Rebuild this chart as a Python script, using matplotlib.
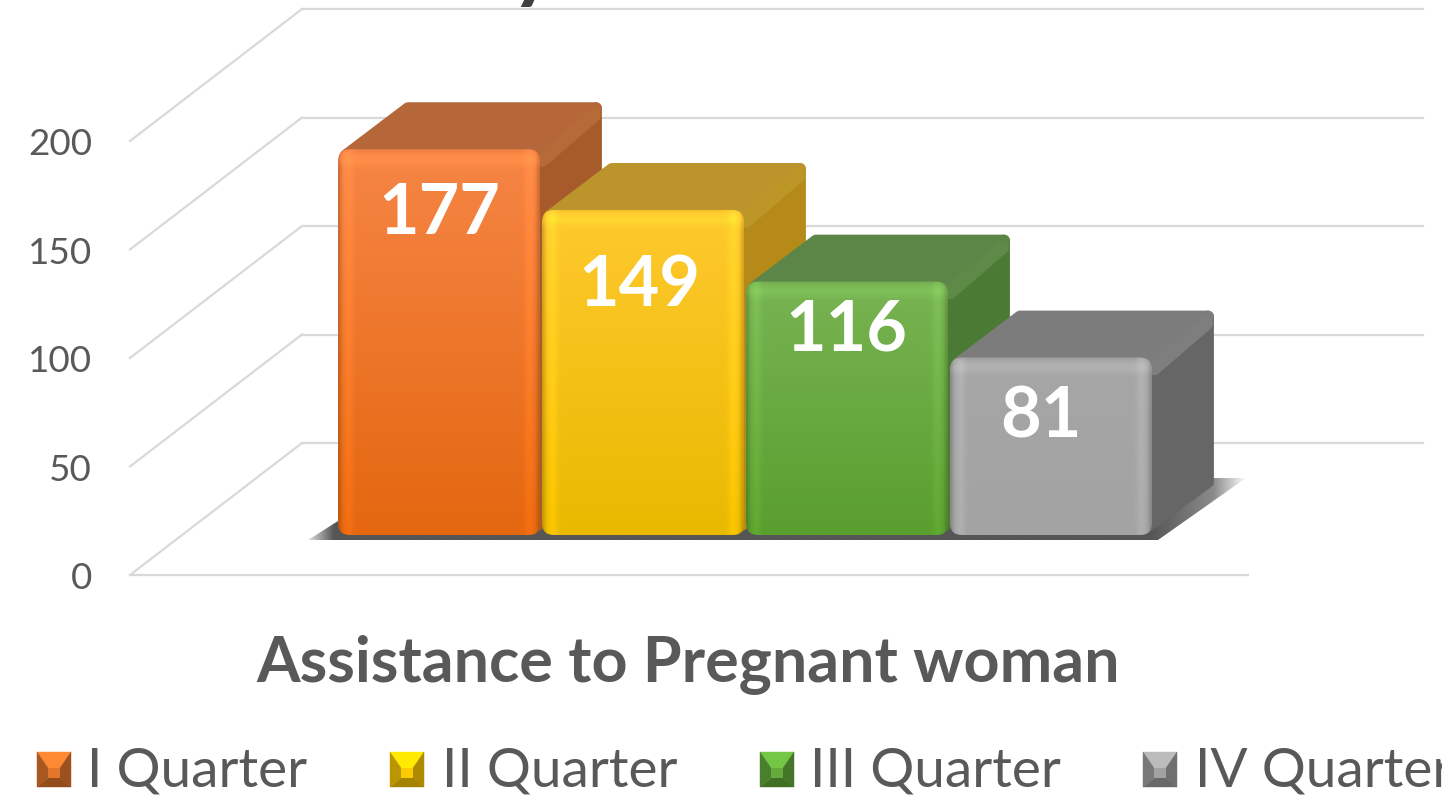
import numpy as np
import matplotlib
matplotlib.use('Agg')
import matplotlib.pyplot as plt
from matplotlib.patches import FancyBboxPatch, Polygon
from matplotlib.transforms import Affine2D

# data
categories = ['I Quarter', 'II Quarter', 'III Quarter', 'IV Quarter']
values = [177, 149, 116, 81]
y_ticks = [0, 50, 100, 150, 200]
x_title = 'Assistance to Pregnant woman'

# colours per bar
front_top = ['#F68545', '#FFC92E', '#78B453', '#A6A6A6']
front_bottom = ['#E4670F', '#E9B900', '#5A9E2E', '#A3A3A3']
top_color = ['#B5673A', '#BB952B', '#5C8647', '#7C7C7C']
side_color = ['#A85B2A', '#B58A18', '#4A7A33', '#666666']
edge_color = ['#B66A38', '#BD9628', '#5E8A48', '#7E7E7E']
swatch_color = ['#D9702A', '#F0C000', '#5FA338', '#9A9A9A']

W, H = 1442, 797
PX_PER_UNIT = 2.17
ZERO_Y = 575

plt.rcParams['font.family'] = ['Lato', 'DejaVu Sans']
fig = plt.figure(figsize=(W / 100, H / 100), dpi=100, facecolor='white')
ax = fig.add_axes([0, 0, 1, 1])
ax.axis('off')

# pixel transform for text and legend, y going down
px = Affine2D().scale(1 / W, -1 / H).translate(0, 1) + fig.transFigure


def rgb(c):
    return np.array(matplotlib.colors.to_rgb(c))


# floor/wall gridlines
FLOOR_DX, FLOOR_DY = 172, 132 / PX_PER_UNIT
grid_col = '#D9D9D9'
for v in y_ticks:
    if v > 0:
        ax.plot([130, 130 + FLOOR_DX], [v, v + FLOOR_DY], color=grid_col, lw=1.6, zorder=1)
    ax.plot([130 + FLOOR_DX, 1423], [v + FLOOR_DY, v + FLOOR_DY], color=grid_col, lw=1.6, zorder=1)
ax.plot([130, 1248], [0, 0], color=grid_col, lw=1.6, zorder=1)
ax.plot([130, 130 + FLOOR_DX], [0, FLOOR_DY], color=grid_col, lw=1.6, zorder=1)
for v in y_ticks:
    ax.text(92, v - 1.7, str(v), ha='right', va='center', fontsize=26.5, color='#595959')

# bars
BAR_X0, BAR_STEP, BAR_W = 338, 204, 202
BASE = 40 / PX_PER_UNIT
TOP_PAD = 0.8
DEPTH_X, DEPTH_Y = 62, 47 / PX_PER_UNIT
INSET = 6
IN_Y = INSET / PX_PER_UNIT

# shadow on the floor, fading out towards the right tip
sx0, sx1 = BAR_X0, BAR_X0 + BAR_STEP * 3 + BAR_W
shadow = Polygon([(sx0 - 30, BASE - 5 / PX_PER_UNIT), (sx0, BASE + 14 / PX_PER_UNIT),
                  (sx1 + 55, BASE + 57 / PX_PER_UNIT), (sx1 + 94, BASE + 57 / PX_PER_UNIT),
                  (sx1 + 6, BASE - 5 / PX_PER_UNIT)],
                 closed=True, fc='none', ec='none', zorder=2)
ax.add_patch(shadow)
grad_x = np.linspace(sx0 - 30, sx1 + 94, 700)
shade = np.zeros((1, grad_x.size, 4))
shade[..., :3] = rgb('#2B2B2B')
shade[..., 3] = np.interp(grad_x, [sx0 - 30, sx0 - 5, sx1, sx1 + 62, sx1 + 94], [0.15, 0.8, 0.8, 0.55, 0.02])
im = ax.imshow(shade, extent=[sx0 - 30, sx1 + 94, BASE - 8 / PX_PER_UNIT, BASE + 58 / PX_PER_UNIT],
               aspect='auto', zorder=2, interpolation='bilinear')
im.set_clip_path(shadow)

for i, val in enumerate(values):
    x0 = BAR_X0 + BAR_STEP * i
    x1 = x0 + BAR_W
    z = 3 + i
    top = val + BASE + TOP_PAD
    # right side
    ax.add_patch(Polygon([(x1 - 8, BASE + IN_Y), (x1 + DEPTH_X - INSET, BASE + DEPTH_Y + IN_Y),
                          (x1 + DEPTH_X - INSET, top + DEPTH_Y - IN_Y), (x1 - 8, top - IN_Y)],
                         closed=True, fc=side_color[i], ec=side_color[i], lw=8.5,
                         joinstyle='round', zorder=z))
    # top
    ax.add_patch(Polygon([(x0 + 8, top - IN_Y), (x0 + DEPTH_X + 8, top + DEPTH_Y - IN_Y),
                          (x1 + DEPTH_X - INSET, top + DEPTH_Y - IN_Y), (x1 - 4, top - IN_Y)],
                         closed=True, fc=top_color[i], ec=top_color[i], lw=8.5,
                         joinstyle='round', zorder=z))
    # lighter edge between top and side
    ax.plot([x1 + 2, x1 + DEPTH_X - 8], [top - 5, top + DEPTH_Y - 6],
            color=edge_color[i], lw=10, solid_capstyle='round', zorder=z)

    # front face: vertical gradient with a small bevel, clipped to a rounded box
    h_px = int((val + TOP_PAD) * PX_PER_UNIT)
    w_px = BAR_W
    t = np.linspace(0, 1, h_px)[:, None, None]
    img = rgb(front_top[i]) * (1 - t) + rgb(front_bottom[i]) * t
    xs = np.arange(w_px)
    ys = np.arange(h_px)
    dx = np.minimum(xs, w_px - 1 - xs)[None, :]
    dy_top = ys[:, None]
    bevel = 1 + 0.07 * np.exp(-((dx - 10) / 5.0) ** 2) - 0.16 * np.exp(-(dx / 3.0) ** 2)
    bevel = bevel + 0.07 * np.exp(-((dy_top - 10) / 6.0) ** 2) - 0.05 * np.exp(-(dy_top / 2.5) ** 2)
    img = np.clip(img * bevel[:, :, None], 0, 1)
    box = FancyBboxPatch((x0, BASE), BAR_W, val + TOP_PAD, boxstyle='round,pad=0,rounding_size=12',
                         mutation_aspect=1 / PX_PER_UNIT, fc='none', ec='none', zorder=z)
    ax.add_patch(box)
    im = ax.imshow(img, extent=[x0, x1, BASE, BASE + val + TOP_PAD], aspect='auto', origin='upper',
                   zorder=z + 0.1, interpolation='bilinear')
    im.set_clip_path(box)

# data labels sit at slightly different places on each bar
label_x = [439, 639, 846, 1041]
label_y = [207, 280, 324, 411]
for i, val in enumerate(values):
    ax.text(label_x[i], label_y[i], str(val), transform=px, ha='center', va='center_baseline',
            fontsize=50.5, fontweight='bold', color='white', zorder=20)

ax.set_xlim(0, W)
ax.set_ylim((ZERO_Y - H) / PX_PER_UNIT, ZERO_Y / PX_PER_UNIT)

# axis title and the cut off bit of the chart title above it
fig.text(688, 658, x_title, transform=px, ha='center', va='center_baseline', fontsize=45.2,
         fontweight='bold', color='#595959')
fig.text(533, -8, 'y', transform=px, ha='center', va='baseline', fontsize=62,
         fontweight='bold', color='#404040')

# legend, swatches drawn as little pyramids
swatch_x = [37, 390, 760, 1143]
legend_x = [87, 442, 810, 1195]
SW, SY = 34, 752
SH = 35
for i, name in enumerate(categories):
    x, y = swatch_x[i], SY
    c = rgb(swatch_color[i])
    corners = [(x, y), (x + SW, y), (x + SW, y + SH), (x, y + SH)]
    mid = [(x + 11, y + 16), (x + SW - 11, y + 16), (x + SW - 11, y + SH - 9), (x + 11, y + SH - 9)]
    shades = [1.22, 0.72, 0.68, 0.78]
    for k in range(4):
        col = np.clip(c * shades[k], 0, 1)
        fig.add_artist(Polygon([corners[k], corners[(k + 1) % 4], mid[(k + 1) % 4], mid[k]],
                               closed=True, fc=col, ec=col, lw=0.3, transform=px))
    fig.add_artist(Polygon(mid, closed=True, fc=np.clip(c * 1.05, 0, 1), ec='none', transform=px))
    fig.text(legend_x[i], 767, name, transform=px, ha='left', va='center_baseline',
             fontsize=39.6, color='#595959')

fig.savefig('out.png', dpi=100, facecolor='white')
